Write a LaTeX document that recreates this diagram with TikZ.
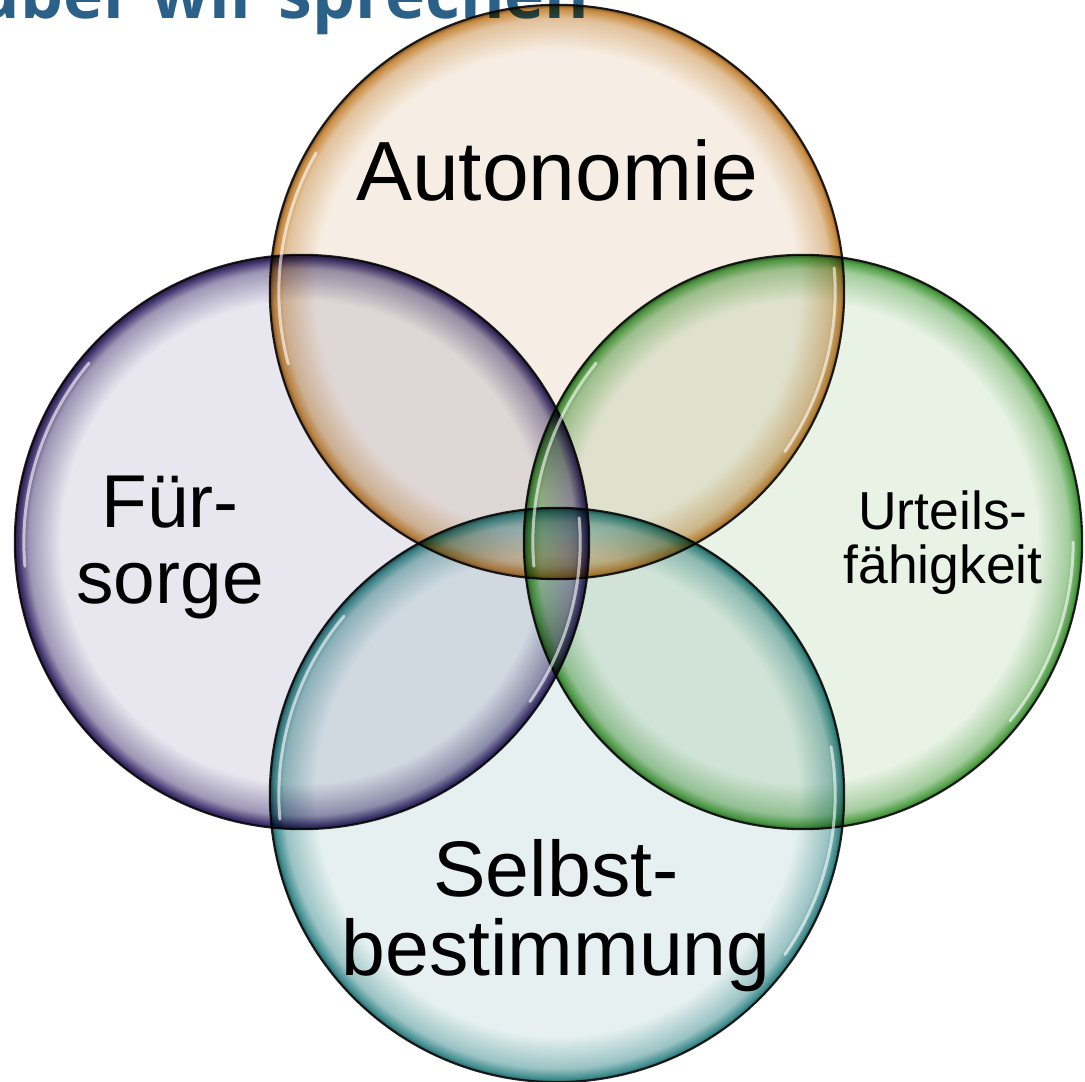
\documentclass[tikz,border=0pt]{standalone}
\usepackage{fontspec}
\setmainfont{Liberation Sans}
\newfontfamily\titlefont{Open Sans}
\usepackage{xcolor}
\definecolor{cTitle}{HTML}{2B6088}
\definecolor{cAutoIn}{HTML}{F6EEE4}
\definecolor{cAutoRim}{HTML}{C88A40}
\definecolor{cCareIn}{HTML}{E8E7EF}
\definecolor{cCareRim}{HTML}{3F336E}
\definecolor{cJudgeIn}{HTML}{E8F2E5}
\definecolor{cJudgeRim}{HTML}{4E9E44}
\definecolor{cSelfIn}{HTML}{E6F0F0}
\definecolor{cSelfRim}{HTML}{3E8C8E}
\usepackage{tikz}
\usetikzlibrary{shapes.geometric}

% glass bubble: flat inside, dark band towards the edge (the edge sits at 25bp)
\newcommand\glassshading[3]{%
  \colorlet{#1-mid}{#3!45!#2}%
  \colorlet{#1-dark}{#3!60!black}%
  \pgfdeclareradialshading{#1}{\pgfpoint{0bp}{0bp}}{%
    color(0bp)=(#2); color(21bp)=(#2); color(23.8bp)=(#1-mid);
    color(24.7bp)=(#3); color(25bp)=(#1-dark); color(50bp)=(#1-dark)}}
\glassshading{shAuto}{cAutoIn}{cAutoRim}
\glassshading{shCare}{cCareIn}{cCareRim}
\glassshading{shJudge}{cJudgeIn}{cJudgeRim}
\glassshading{shSelf}{cSelfIn}{cSelfRim}

\tikzset{
  bubble/.style={circle,inner sep=0pt,minimum size=5.74cm,shade,
    draw=black!85,line width=0.6pt},
  bubble-shine/.style={draw=white,line width=0.03cm,line cap=round,
    opacity=0.6},
  bubble-label/.style={font=#1,align=center,text=black,inner sep=0pt},
}

\begin{document}
\begin{tikzpicture}[x=0.01cm,y=-0.01cm]
  \useasboundingbox (0,0) rectangle (1085,1082);
  \fill[white] (0,0) rectangle (1085,1082);

  % slide title, cut off by the page edge
  \node[anchor=base east,text=cTitle,inner sep=0pt,
    font=\titlefont\bfseries\fontsize{19.3pt}{22pt}\selectfont]
    (title) at (590,19) {über wir sprechen};

  \begin{scope}[blend mode=multiply]
    \node[bubble,shading=shAuto] (auto) at (557,292) {};
    \node[bubble,shading=shCare] (care) at (302,542) {};
    \node[bubble,shape=ellipse,minimum width=5.58cm,minimum height=5.74cm,
      shading=shJudge] (judge) at (803,542) {};
    \node[bubble,shading=shSelf] (self) at (557,795) {};
  \end{scope}

  % highlights
  \draw[bubble-shine] (auto.center) ++(150:2.78cm) arc[start angle=150,end angle=195,radius=2.78cm];
  \draw[bubble-shine] (auto.center) ++(-35:2.78cm) arc[start angle=-35,end angle=5,radius=2.78cm];
  \draw[bubble-shine] (care.center) ++(140:2.78cm) arc[start angle=140,end angle=185,radius=2.78cm];
  \draw[bubble-shine] (care.center) ++(-35:2.78cm) arc[start angle=-35,end angle=5,radius=2.78cm];
  \draw[bubble-shine] (judge.center) ++(140:2.70cm and 2.78cm)
    arc[start angle=140,end angle=185,x radius=2.70cm,y radius=2.78cm];
  \draw[bubble-shine] (judge.center) ++(-40:2.70cm and 2.78cm)
    arc[start angle=-40,end angle=0,x radius=2.70cm,y radius=2.78cm];
  \draw[bubble-shine] (self.center) ++(140:2.78cm) arc[start angle=140,end angle=185,radius=2.78cm];
  \draw[bubble-shine] (self.center) ++(-35:2.78cm) arc[start angle=-35,end angle=10,radius=2.78cm];

  % labels (base = baseline of the last line)
  \node[bubble-label=\fontsize{23.9pt}{28pt}\selectfont,anchor=base]
    (auto-text) at (557,200) {Autonomie};
  \node[bubble-label=\fontsize{21.3pt}{21.4pt}\selectfont,anchor=base]
    (care-text) at (170,603) {Für-\\sorge};
  \node[bubble-label=\fontsize{15.2pt}{15.1pt}\selectfont,anchor=base]
    (judge-text) at (943,583) {Urteils-\\fähigkeit};
  \node[bubble-label=\fontsize{22.4pt}{22.2pt}\selectfont,anchor=base]
    (self-text) at (556,975) {Selbst-\\bestimmung};
\end{tikzpicture}
\end{document}
